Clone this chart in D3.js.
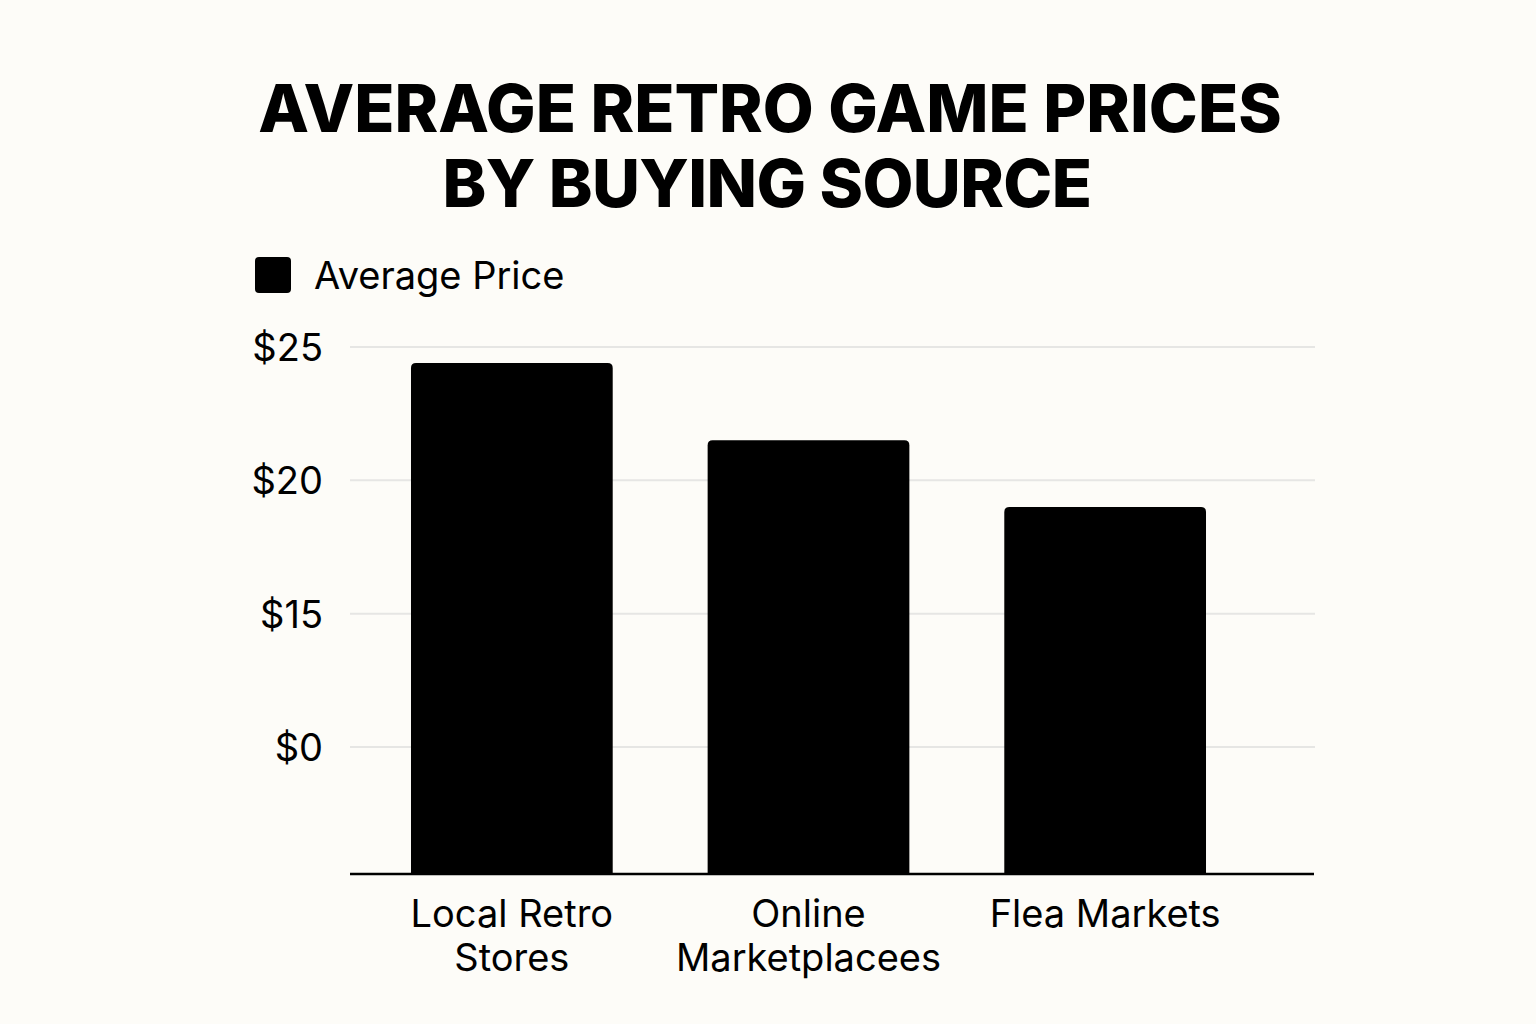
<!DOCTYPE html>
<html><head><meta charset="utf-8">
<script src="https://cdn.jsdelivr.net/npm/d3@7"></script>
<style>
html,body{margin:0;padding:0;background:#fdfcf8;}
svg{display:block;}
</style></head>
<body>
<svg id="chart" width="1536" height="1024"></svg>
<script>
const titleLines = ["AVERAGE RETRO GAME PRICES", "BY BUYING SOURCE"];
const seriesName = "Average Price";
const categories = [["Local Retro", "Stores"], ["Online", "Marketplacees"], ["Flea Markets"]];
const categoryKeys = ["Local Retro Stores", "Online Marketplacees", "Flea Markets"];
const values = [24.4, 21.5, 19.0];
const tickValues = [25, 20, 15, 10];
const tickLabels = ["$25", "$20", "$15", "$0"];

(function () {
const svg = d3.select("#chart");
const W = 1536, H = 1024;
svg.append("rect").attr("width", W).attr("height", H).attr("fill", "#fdfcf8");

const plotLeft = 350, plotRight = 1314, plotTop = 347, plotBottom = 874;

// title
const title = svg.append("text")
  .attr("text-anchor", "middle")
  .attr("font-family", "Inter, 'Liberation Sans', sans-serif")
  .attr("font-weight", 800)
  .attr("font-size", 66)
  .attr("fill", "#000");
title.selectAll("tspan").data(titleLines).join("tspan")
  .attr("x", (d, i) => i === 0 ? 770 : 767)
  .attr("y", (d, i) => 132 + i * 75)
  .attr("letter-spacing", (d, i) => i === 0 ? 0 : -0.6)
  .text(d => d);

// legend
const legend = svg.append("g");
legend.append("rect").attr("x", 255).attr("y", 257).attr("width", 36).attr("height", 36)
  .attr("rx", 4).attr("fill", "#000");
legend.append("text").attr("x", 314).attr("y", 289)
  .attr("font-family", "Inter, Roboto, sans-serif").attr("font-size", 38)
  .attr("fill", "#000").text(seriesName);

// scales
const y = d3.scaleLinear().domain([5.24, 25]).range([plotBottom, plotTop]);
const x = d3.scaleBand().domain(categoryKeys).range([plotLeft, 1267])
  .paddingInner(0.32).paddingOuter(0.2056);

// grid
svg.append("g").selectAll("line").data(tickValues).join("line")
  .attr("x1", plotLeft).attr("x2", plotRight + 1)
  .attr("y1", d => y(d)).attr("y2", d => y(d))
  .attr("stroke", "#e6e6e4").attr("stroke-width", 2);

// y axis labels via d3 axis
const yAxis = d3.axisLeft(y).tickValues(tickValues)
  .tickFormat((d, i) => tickLabels[i]).tickSize(0).tickPadding(0);
const gy = svg.append("g").attr("transform", "translate(323,0)").call(yAxis);
gy.select(".domain").remove();
gy.selectAll("text").attr("font-family", "Inter, Roboto, sans-serif")
  .attr("font-size", 38).attr("fill", "#000").attr("dy", "0.35em");

// bars with rounded top corners
const r = 5;
function barPath(x0, w, yTop, yBot) {
  return `M${x0},${yBot} L${x0},${yTop + r} Q${x0},${yTop} ${x0 + r},${yTop} L${x0 + w - r},${yTop} Q${x0 + w},${yTop} ${x0 + w},${yTop + r} L${x0 + w},${yBot} Z`;
}
svg.append("g").selectAll("path").data(values).join("path")
  .attr("d", (d, i) => barPath(x(categoryKeys[i]), x.bandwidth(), y(d), plotBottom))
  .attr("fill", "#000");

// x axis line
svg.append("line").attr("x1", plotLeft).attr("x2", plotRight).attr("y1", plotBottom).attr("y2", plotBottom)
  .attr("stroke", "#000").attr("stroke-width", 2.5);

// x labels
const xl = svg.append("g").selectAll("text").data(categories).join("text")
  .attr("text-anchor", "middle")
  .attr("font-family", "Inter, Roboto, sans-serif").attr("font-size", 38).attr("fill", "#000");
xl.each(function (lines, i) {
  const cx = x(categoryKeys[i]) + x.bandwidth() / 2;
  d3.select(this).selectAll("tspan").data(lines).join("tspan")
    .attr("x", cx).attr("y", (d, j) => 927 + j * 44).text(d => d);
});
})();
</script>
</body></html>
